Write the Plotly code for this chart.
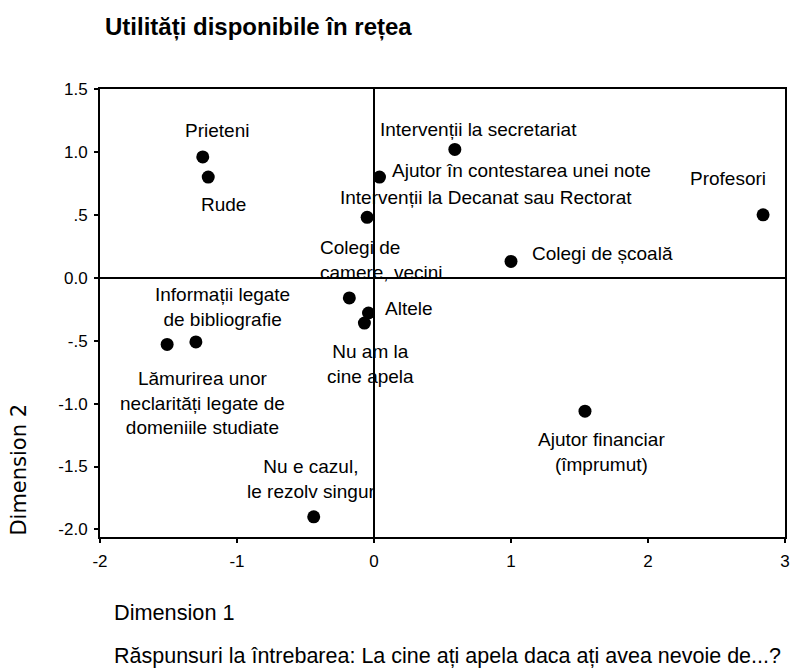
import plotly.graph_objects as go

# ---- data ----
labels = [
    "Prieteni", "Rude", "Intervenții la secretariat", "Ajutor în contestarea unei note",
    "Intervenții la Decanat sau Rectorat", "Profesori", "Colegi de școală",
    "Colegi de<br>camere, vecini", "Altele", "Nu am la<br>cine apela",
    "Informații legate<br>de bibliografie",
    "Lămurirea unor<br>neclarități legate de<br>domeniile studiate",
    "Nu e cazul,<br>le rezolv singur", "Ajutor financiar<br>(împrumut)",
]
dim1 = [-1.25, -1.21, 0.59, 0.04, -0.05, 2.84, 1.00, -0.18, -0.04, -0.07, -1.30, -1.51, -0.44, 1.54]
dim2 = [0.96, 0.80, 1.02, 0.80, 0.48, 0.50, 0.13, -0.16, -0.28, -0.36, -0.51, -0.53, -1.90, -1.06]

x_ticks = [-2, -1, 0, 1, 2, 3]
y_ticks = [-2.0, -1.5, -1.0, -0.5, 0.0, 0.5, 1.0, 1.5]
y_ticktext = ["-2.0", "-1.5", "-1.0", "-.5", "0.0", ".5", "1.0", "1.5"]

# label placement (pixel offsets from each point)
label_style = [
    dict(xanchor="center", xshift=14, yshift=26, align="center"),
    dict(xanchor="center", xshift=15, yshift=-27, align="center"),
    dict(xanchor="left", xshift=-77, yshift=20, align="left"),
    dict(xanchor="left", xshift=11, yshift=7, align="left"),
    dict(xanchor="left", xshift=-29, yshift=20, align="left"),
    dict(xanchor="center", xshift=-35, yshift=36, align="center"),
    dict(xanchor="left", xshift=19, yshift=8, align="left"),
    dict(xanchor="left", xshift=-31, yshift=38, align="left"),
    dict(xanchor="left", xshift=14, yshift=5, align="left"),
    dict(xanchor="center", xshift=6, yshift=-41, align="center"),
    dict(xanchor="center", xshift=27, yshift=35, align="center"),
    dict(xanchor="center", xshift=35, yshift=-59, align="center"),
    dict(xanchor="center", xshift=-3, yshift=38, align="center"),
    dict(xanchor="center", xshift=17, yshift=-41, align="center"),
]

FONT = "Liberation Sans, Arial, sans-serif"

# page has an 8px body margin; figure is sized to fill the rest
W, H = 790, 661
PL, PR, PT, PB = 92, 782, 81, 529   # plot area in figure pixels

fig = go.Figure()
fig.add_trace(go.Scatter(
    x=dim1, y=dim2, mode="markers",
    marker=dict(color="black", size=13),
    hoverinfo="skip", showlegend=False,
))

annotations = []
for lab, xv, yv, st in zip(labels, dim1, dim2, label_style):
    annotations.append(dict(
        x=xv, y=yv, xref="x", yref="y", text=lab, showarrow=False,
        yanchor="middle", font=dict(family=FONT, size=19, color="black"), **st,
    ))


def px(xp):
    return (xp - 8 - PL) / (PR - PL)


def py(yp):
    return (PB - (yp - 8)) / (PB - PT)


annotations.append(dict(
    text="Dimension 2", textangle=-90, xref="paper", yref="paper",
    x=px(18), y=py(470), showarrow=False, xanchor="center", yanchor="middle",
    font=dict(family="DejaVu Sans, sans-serif", size=21, color="black"),
))
annotations.append(dict(
    text="Dimension 1", xref="paper", yref="paper",
    x=px(112), y=py(612), showarrow=False, xanchor="left", yanchor="middle",
    font=dict(family=FONT, size=21.7, color="black"),
))
annotations.append(dict(
    text="Răspunsuri la întrebarea: La cine ați apela daca ați avea nevoie de...?",
    xref="paper", yref="paper",
    x=px(112), y=py(656), showarrow=False, xanchor="left", yanchor="middle",
    font=dict(family=FONT, size=21.5, color="black"),
))

fig.update_layout(
    width=W, height=H,
    margin=dict(l=PL, r=W - PR, t=PT, b=H - PB, pad=0),
    paper_bgcolor="white", plot_bgcolor="white",
    title=dict(
        text="Utilități disponibile în rețea",
        x=97 / W, xanchor="left", xref="container",
        y=1 - 19 / H, yanchor="middle", yref="container",
        font=dict(family=FONT, size=24, color="black", weight="bold"),
    ),
    annotations=annotations,
    xaxis=dict(
        range=[-2, 3], tickvals=x_ticks, ticktext=[str(v) for v in x_ticks],
        showgrid=False, zeroline=True, zerolinecolor="black", zerolinewidth=1.5,
        showline=True, linecolor="black", linewidth=2, mirror=True,
        ticks="outside", ticklen=4, tickwidth=2, tickcolor="black",
        ticklabelstandoff=4,
        tickfont=dict(family=FONT, size=17, color="black"),
    ),
    yaxis=dict(
        range=[-2.06, 1.5], tickvals=y_ticks, ticktext=y_ticktext,
        showgrid=False, zeroline=True, zerolinecolor="black", zerolinewidth=1.5,
        showline=True, linecolor="black", linewidth=2, mirror=True,
        ticks="outside", ticklen=4, tickwidth=2, tickcolor="black",
        ticklabelstandoff=3,
        tickfont=dict(family=FONT, size=17, color="black"),
    ),
)

fig.write_html("out.html")
